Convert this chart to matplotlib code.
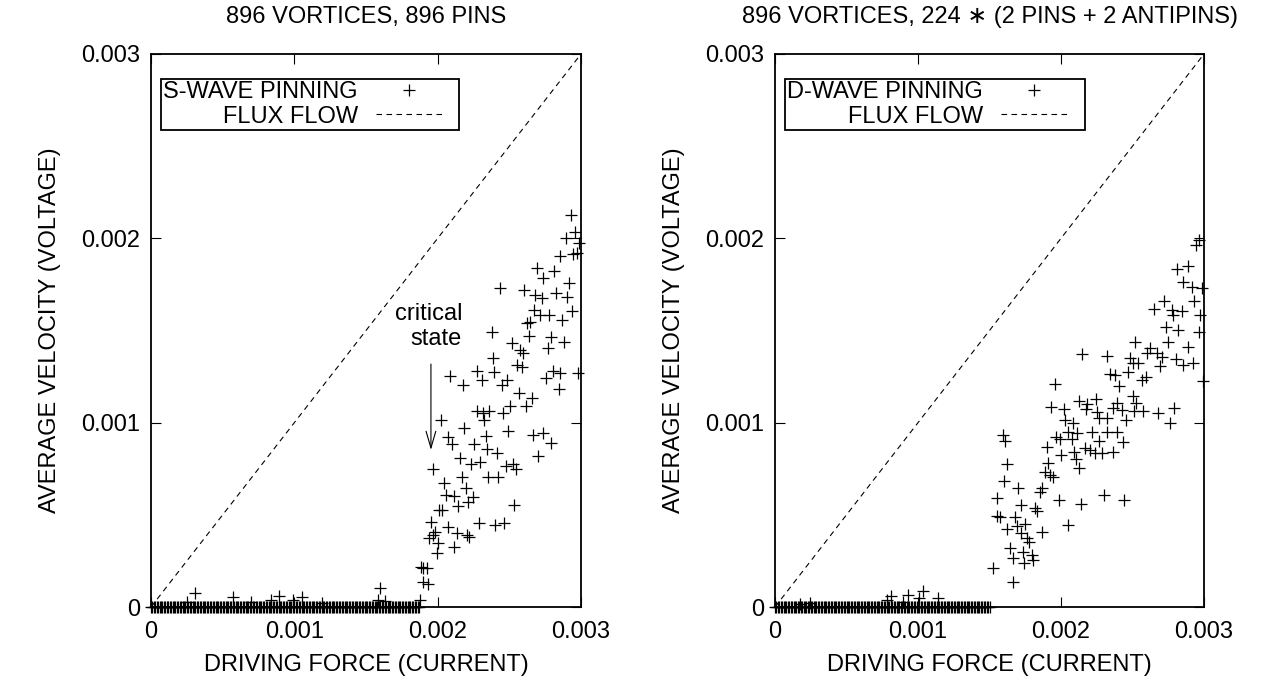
import matplotlib
matplotlib.use('Agg')
import numpy as np
import matplotlib.pyplot as plt
from matplotlib.legend_handler import HandlerLine2D

plt.rcParams['font.family'] = ['Liberation Sans', 'DejaVu Sans']

# left panel: s-wave pinning, points off the zero line
S_X = [0.002928, 0.002958, 0.002893, 0.002988, 0.002946, 0.002970, 0.002853, 0.002695,
       0.002813, 0.002737, 0.002916, 0.002435, 0.002605, 0.002679, 0.002726, 0.002823,
       0.002904, 0.002935, 0.002675, 0.002714, 0.002779, 0.002865, 0.002625, 0.002644,
       0.002377, 0.002637, 0.002788, 0.002883, 0.002516, 0.002574, 0.002593, 0.002767,
       0.002388, 0.002555, 0.002586, 0.002276, 0.002395, 0.002086, 0.002307, 0.002174,
       0.002447, 0.002482, 0.002807, 0.002853, 0.002756, 0.002977, 0.002846, 0.002567,
       0.002656, 0.002614, 0.002505, 0.002272, 0.002318, 0.002360, 0.002458, 0.002325,
       0.002023, 0.002186, 0.002493, 0.002667, 0.002737, 0.002070, 0.002337,
       0.002794, 0.002702, 0.002098, 0.002256, 0.002346, 0.002416, 0.002156, 0.002233,
       0.002295, 0.002477, 0.002528, 0.002547, 0.001965, 0.002167, 0.002353, 0.002423,
       0.002046, 0.002197, 0.002056, 0.002114, 0.002249, 0.002214, 0.002144, 0.002012,
       0.002032, 0.002535, 0.001953, 0.002074, 0.002285, 0.002400, 0.002465, 0.001981,
       0.002133, 0.002207, 0.002221, 0.001942, 0.001970, 0.002004, 0.002116, 0.001993,
       0.001882, 0.001900, 0.001924, 0.001900, 0.001935, 0.001877,
       0.000307, 0.000574, 0.000895, 0.000837, 0.001051, 0.000698, 0.000249, 0.001598,
       0.001586, 0.001633, 0.000993, 0.001191]
S_Y = [0.002128, 0.002036, 0.002000, 0.001977, 0.001915, 0.001918, 0.001904, 0.001837,
       0.001824, 0.001783, 0.001759, 0.001728, 0.001720, 0.001693, 0.001675, 0.001701,
       0.001683, 0.001606, 0.001611, 0.001584, 0.001584, 0.001557, 0.001543, 0.001548,
       0.001490, 0.001472, 0.001466, 0.001436, 0.001434, 0.001394, 0.001380, 0.001403,
       0.001352, 0.001313, 0.001300, 0.001280, 0.001273, 0.001253, 0.001231, 0.001204,
       0.001204, 0.001231, 0.001280, 0.001271, 0.001240, 0.001267, 0.001183, 0.001163,
       0.001132, 0.001090, 0.001092, 0.001063, 0.001051, 0.001065, 0.001054, 0.001014,
       0.001014, 0.000973, 0.000956, 0.000933, 0.000946, 0.000924, 0.000928,
       0.000892, 0.000819, 0.000883, 0.000883, 0.000857, 0.000834, 0.000807, 0.000774,
       0.000785, 0.000767, 0.000774, 0.000747, 0.000747, 0.000707, 0.000707, 0.000707,
       0.000671, 0.000648, 0.000608, 0.000602, 0.000599, 0.000572, 0.000548, 0.000526,
       0.000526, 0.000553, 0.000463, 0.000436, 0.000457, 0.000445, 0.000454, 0.000409,
       0.000400, 0.000391, 0.000378, 0.000373, 0.000391, 0.000345, 0.000324, 0.000291,
       0.000215, 0.000213, 0.000210, 0.000137, 0.000125, 0.000038,
       0.000074, 0.000053, 0.000060, 0.000038, 0.000053, 0.000029, 0.000029, 0.000104,
       0.000038, 0.000033, 0.000038, 0.000023]
# pinned part of the sweep: force steps of 1e-5, velocity read as zero
S_PINNED_END = 0.00188

# right panel: d-wave pinning
D_X = [0.002967, 0.002944, 0.002813, 0.002886, 0.002851, 0.002914, 0.002984, 0.002720,
       0.002932, 0.002650, 0.002774, 0.002849, 0.002781, 0.002972, 0.002732, 0.002820,
       0.002965, 0.002517, 0.002750, 0.002622, 0.002890, 0.002149, 0.002320, 0.002599,
       0.002669, 0.002482, 0.002704, 0.002506, 0.002541, 0.002804, 0.002851, 0.002921,
       0.002692, 0.002343, 0.002378, 0.002471, 0.002592, 0.002564, 0.002995, 0.001958,
       0.002408, 0.002501, 0.002243, 0.002128, 0.002184, 0.002389, 0.002524, 0.001928,
       0.002021, 0.002175, 0.002254, 0.002366, 0.002424, 0.002510, 0.002576, 0.002680,
       0.002790, 0.002266, 0.002324, 0.002028, 0.002082, 0.002452, 0.002762, 0.002215,
       0.002320, 0.002389, 0.001965, 0.001993, 0.002051, 0.002075, 0.002114, 0.002268,
       0.002431, 0.001597, 0.001608, 0.001900,
       0.002091, 0.001998, 0.002168, 0.002203, 0.002238, 0.002285, 0.002362, 0.002105,
       0.001911, 0.002128, 0.001888, 0.001923, 0.001946, 0.001865, 0.001853, 0.001701,
       0.001620, 0.001601, 0.001988, 0.002140, 0.002301, 0.002441, 0.001818, 0.001830,
       0.001720, 0.001678, 0.001573, 0.001748, 0.001690, 0.001625, 0.001718, 0.001869,
       0.002051, 0.001764, 0.001778, 0.001643, 0.001732, 0.001666, 0.001741, 0.001806,
       0.001795, 0.001662, 0.001550, 0.001550, 0.001527,
       0.000809, 0.000928, 0.001037, 0.001142, 0.001009, 0.000897, 0.000781, 0.000245,
       0.000175]
D_Y = [0.001991, 0.001964, 0.001834, 0.001850, 0.001761, 0.001734, 0.001729, 0.001662,
       0.001662, 0.001617, 0.001611, 0.001606, 0.001584, 0.001584, 0.001521, 0.001503,
       0.001494, 0.001439, 0.001439, 0.001403, 0.001412, 0.001371, 0.001363, 0.001376,
       0.001376, 0.001352, 0.001358, 0.001322, 0.001325, 0.001344, 0.001313, 0.001322,
       0.001307, 0.001262, 0.001259, 0.001277, 0.001249, 0.001231, 0.001228, 0.001210,
       0.001201, 0.001145, 0.001128, 0.001119, 0.001101, 0.001105, 0.001108, 0.001087,
       0.001074, 0.001074, 0.001060, 0.001078, 0.001069, 0.001063, 0.001063, 0.001054,
       0.001078, 0.001027, 0.001027, 0.001014, 0.000997, 0.001014, 0.000997, 0.000951,
       0.000948, 0.000948, 0.000921, 0.000911, 0.000951, 0.000911, 0.000946, 0.000902,
       0.000894, 0.000933, 0.000902, 0.000870,
       0.000839, 0.000825, 0.000861, 0.000852, 0.000834, 0.000834, 0.000843, 0.000801,
       0.000780, 0.000752, 0.000734, 0.000716, 0.000704, 0.000644, 0.000626, 0.000644,
       0.000774, 0.000684, 0.000580, 0.000559, 0.000608, 0.000580, 0.000535, 0.000523,
       0.000553, 0.000490, 0.000490, 0.000450, 0.000439, 0.000422, 0.000400, 0.000409,
       0.000443, 0.000373, 0.000354, 0.000318, 0.000300, 0.000264, 0.000240, 0.000255,
       0.000282, 0.000134, 0.000593, 0.000494, 0.000213,
       0.000060, 0.000065, 0.000087, 0.000050, 0.000047, 0.000029, 0.000038, 0.000020,
       0.000015]
D_PINNED_END = 0.00151
FORCE_STEP = 0.00001

FLOW = [0.0, 0.003]
TICKS = [0.0, 0.001, 0.002, 0.003]
TICK_LABELS = ['0', '0.001', '0.002', '0.003']
TITLES = ['896 VORTICES, 896 PINS', '896 VORTICES, 224 \u2217 (2 PINS + 2 ANTIPINS)']
LEGEND_NAMES = ['S-WAVE PINNING', 'D-WAVE PINNING']

FS = 17


class KeySample(HandlerLine2D):
    # gnuplot style key: sample drawn in the left part, blank room on the right
    def create_artists(self, legend, orig_handle, xdescent, ydescent, width,
                       height, fontsize, trans):
        return super().create_artists(legend, orig_handle, xdescent, ydescent,
                                      width * 0.82, height, fontsize, trans)


fig = plt.figure(figsize=(12.67, 6.86), dpi=100)
ax1 = fig.add_axes([151 / 1267, 79 / 686, 430 / 1267, 553 / 686])
ax2 = fig.add_axes([775 / 1267, 79 / 686, 429 / 1267, 553 / 686])

panels = [(ax1, S_X, S_Y, S_PINNED_END), (ax2, D_X, D_Y, D_PINNED_END)]
for i, (ax, xs, ys, pin_end) in enumerate(panels):
    flat_x = np.arange(0.0, pin_end, FORCE_STEP)
    flat_y = np.zeros_like(flat_x)
    pts_x = np.concatenate([flat_x, xs])
    pts_y = np.concatenate([flat_y, ys])
    pts, = ax.plot(pts_x, pts_y, linestyle='none', marker='+', ms=8, mew=0.9,
                   color='black', label=LEGEND_NAMES[i], clip_on=False)
    flow, = ax.plot(FLOW, FLOW, linestyle=(0, (5, 4)), lw=0.8, color='black',
                    label='FLUX FLOW')
    ax.set_xlim(0, 0.003)
    ax.set_ylim(0, 0.003)
    ax.set_xticks(TICKS, TICK_LABELS)
    ax.set_yticks(TICKS, TICK_LABELS)
    ax.tick_params(direction='in', length=7, width=0.8, top=True, right=True,
                   labelsize=FS, color='black')
    ax.tick_params(axis='x', pad=10)
    ax.tick_params(axis='y', pad=8)
    for sp in ax.spines.values():
        sp.set_linewidth(1.3)
    ax.set_xlabel('DRIVING FORCE (CURRENT)', fontsize=FS, labelpad=8)
    ax.set_ylabel('AVERAGE VELOCITY (VOLTAGE)', fontsize=FS, labelpad=14)
    ax.set_title(TITLES[i], fontsize=FS, pad=22)
    leg = ax.legend(loc='upper left', bbox_to_anchor=(10 / 430, 1 - 25 / 553),
                    borderaxespad=0, markerfirst=False, fontsize=FS, numpoints=1,
                    handlelength=3.45, handletextpad=0.75, labelspacing=0.1,
                    borderpad=0.1, fancybox=False, framealpha=1, edgecolor='black',
                    handler_map={pts: KeySample(), flow: KeySample()})
    leg.get_frame().set_linewidth(1.3)

# critical state marker on the left panel
ax1.annotate('', xy=(0.001953, 0.000852), xytext=(0.001953, 0.001318),
             arrowprops=dict(arrowstyle='->,head_length=1.2,head_width=0.35',
                             lw=0.8, color='black', shrinkA=0, shrinkB=0))
ax1.text(0.00217, 0.001522, 'critical\nstate', fontsize=FS, ha='right', va='center',
         multialignment='right', linespacing=1.15)

fig.savefig('out.png', dpi=100)
